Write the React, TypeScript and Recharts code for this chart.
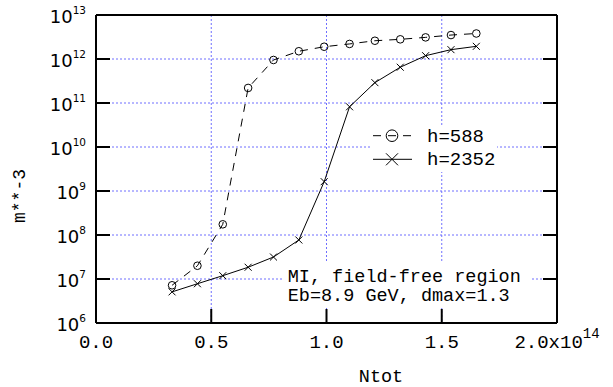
import { CartesianGrid, ComposedChart, Legend, Line, XAxis, YAxis } from "recharts";

// Ntot in units of 1e14
const nTot = [0.33, 0.44, 0.55, 0.66, 0.77, 0.88, 0.99, 1.1, 1.21, 1.32, 1.43, 1.54, 1.65];

// m**-3
const h588 = [7.2e6, 2.0e7, 1.75e8, 2.2e11, 9.5e11, 1.5e12, 1.9e12, 2.2e12, 2.6e12, 2.8e12, 3.1e12, 3.5e12, 3.8e12];
const h2352 = [5.1e6, 7.8e6, 1.19e7, 1.85e7, 3.16e7, 7.7e7, 1.63e9, 8.2e10, 2.9e11, 6.5e11, 1.19e12, 1.63e12, 1.94e12];

const xTicks = [0, 0.5e14, 1e14, 1.5e14, 2e14];
const xTickLabels = ["0.0", "0.5", "1.0", "1.5", "2.0x10"];
const xTickExp = ["", "", "", "", "14"];

const yTicks = [1e6, 1e7, 1e8, 1e9, 1e10, 1e11, 1e12, 1e13];
const yTickExp = ["6", "7", "8", "9", "10", "11", "12", "13"];

const legendNames = ["h=588", "h=2352"];
const noteLines = ["MI, field-free region", "Eb=8.9 GeV, dmax=1.3"];

const rows = nTot.map((n, i) => ({ n: n * 1e14, h588: h588[i], h2352: h2352[i] }));

const MONO = '"Liberation Mono", "Courier New", monospace';
const SANS = '"DejaVu Sans", sans-serif';
const TICK = 14;
const GRID = "#6f6fff";

function BottomTick({ x, y, index }: any) {
  return (
    <g>
      <line x1={x} x2={x} y1={y} y2={y - TICK} stroke="#000" strokeWidth={2} />
      <text x={x} y={y + 25} textAnchor="middle" fontFamily={MONO} fontSize={19} fill="#000">
        {xTickLabels[index]}
        {xTickExp[index] ? (
          <tspan dy={-10} fontSize={14}>
            {xTickExp[index]}
          </tspan>
        ) : null}
      </text>
    </g>
  );
}

function TopTick({ x, y }: any) {
  return <line x1={x} x2={x} y1={y} y2={y + TICK} stroke="#000" strokeWidth={2} />;
}

function LeftTick({ x, y, index }: any) {
  return (
    <g>
      <line x1={x} x2={x + TICK} y1={y} y2={y} stroke="#000" strokeWidth={2} />
      <text x={x - 10} y={y + 7.5} textAnchor="end" fontFamily={SANS} fontSize={18} fill="#000">
        10
        <tspan dy={-9} fontSize={10.5}>
          {yTickExp[index]}
        </tspan>
      </text>
    </g>
  );
}

function RightTick({ x, y }: any) {
  return <line x1={x} x2={x - TICK} y1={y} y2={y} stroke="#000" strokeWidth={2} />;
}

function CircleDot({ cx, cy, index }: any) {
  return <circle key={index} cx={cx} cy={cy} r={3.8} fill="none" stroke="#000" strokeWidth={1} />;
}

function CrossDot({ cx, cy, index }: any) {
  const s = 3.5;
  return (
    <path
      key={index}
      d={`M${cx - s},${cy - s}L${cx + s},${cy + s}M${cx - s},${cy + s}L${cx + s},${cy - s}`}
      stroke="#000"
      strokeWidth={1}
      fill="none"
    />
  );
}

function LegendBox() {
  return (
    <svg width={127} height={47} style={{ display: "block", background: "#fff" }}>
      <line x1={3} x2={42} y1={10.7} y2={10.7} stroke="#000" strokeDasharray="8 7" />
      <circle cx={22} cy={10.7} r={5.8} fill="none" stroke="#000" />
      <text x={57} y={16.7} fontFamily={MONO} fontSize={19} fill="#000">
        {legendNames[0]}
      </text>
      <line x1={3} x2={42} y1={34.3} y2={34.3} stroke="#000" />
      <path d="M16,28.3L28,40.3M16,40.3L28,28.3" stroke="#000" fill="none" />
      <text x={57} y={40.3} fontFamily={MONO} fontSize={19} fill="#000">
        {legendNames[1]}
      </text>
    </svg>
  );
}

function YLabel({ viewBox }: any) {
  const x = viewBox.x + 25;
  const y = viewBox.y + 181;
  return (
    <text x={x} y={y} transform={`rotate(-90 ${x} ${y})`} textAnchor="middle" fontFamily={MONO} fontSize={18} fill="#000">
      m**-3
    </text>
  );
}

function XLabel({ viewBox }: any) {
  return (
    <text x={viewBox.x + 285} y={viewBox.y + 58.5} textAnchor="middle" fontFamily={MONO} fontSize={18.5} fill="#000">
      Ntot
    </text>
  );
}

export default function App() {
  return (
    <div style={{ position: "absolute", left: 0, top: 0, width: 613, height: 387, background: "#fff" }}>
      <ComposedChart width={613} height={387} data={rows} margin={{ top: 0, right: 0, bottom: 0, left: 0 }}>
        <CartesianGrid stroke={GRID} strokeDasharray="2 2" />
        <XAxis
          dataKey="n"
          type="number"
          domain={[0, 2e14]}
          allowDataOverflow
          ticks={xTicks}
          height={64}
          tickSize={0}
          tickMargin={0}
          tickLine={false}
          axisLine={{ stroke: "#000", strokeWidth: 2 }}
          tick={<BottomTick />}
          interval={0}
          label={<XLabel />}
        />
        <XAxis
          xAxisId="top"
          orientation="top"
          type="number"
          domain={[0, 2e14]}
          allowDataOverflow
          ticks={xTicks}
          height={15}
          tickSize={0}
          tickMargin={0}
          tickLine={false}
          axisLine={{ stroke: "#000", strokeWidth: 2 }}
          tick={<TopTick />}
          interval={0}
        />
        <YAxis
          scale="log"
          domain={[1e6, 1e13]}
          allowDataOverflow
          ticks={yTicks}
          width={96}
          tickSize={0}
          tickMargin={0}
          tickLine={false}
          axisLine={{ stroke: "#000", strokeWidth: 2 }}
          tick={<LeftTick />}
          interval={0}
          label={<YLabel />}
        />
        <YAxis
          yAxisId="right"
          orientation="right"
          scale="log"
          domain={[1e6, 1e13]}
          allowDataOverflow
          ticks={yTicks}
          width={56}
          tickSize={0}
          tickMargin={0}
          tickLine={false}
          axisLine={{ stroke: "#000", strokeWidth: 2 }}
          tick={<RightTick />}
          interval={0}
        />
        <Line
          dataKey="h588"
          stroke="#000"
          strokeWidth={1}
          strokeDasharray="8 7"
          dot={CircleDot}
          activeDot={false}
          isAnimationActive={false}
        />
        <Line
          dataKey="h2352"
          stroke="#000"
          strokeWidth={1}
          dot={CrossDot}
          activeDot={false}
          isAnimationActive={false}
        />
        <Legend
          layout="horizontal"
          verticalAlign="middle"
          align="center"
          content={<LegendBox />}
          wrapperStyle={{ position: "absolute", left: 370, top: 125, width: 127, height: 47 }}
        />
      </ComposedChart>
      <div style={{ position: "absolute", left: 283, top: 262, width: 248, height: 46, background: "#fff" }}>
        <svg width={248} height={46} style={{ display: "block" }}>
          {noteLines.map((t, i) => (
            <text key={i} x={4.7} y={20.2 + i * 19} fontFamily={MONO} fontSize={18.5} fill="#000">
              {t}
            </text>
          ))}
        </svg>
      </div>
    </div>
  );
}
